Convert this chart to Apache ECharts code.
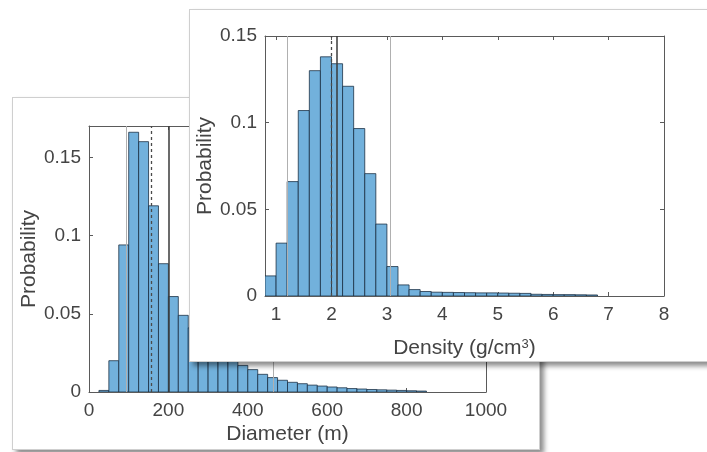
<!DOCTYPE html>
<html>
<head>
<meta charset="utf-8">
<script src="https://cdn.jsdelivr.net/npm/echarts@6/dist/echarts.min.js"></script>
<style>
  html, body { margin: 0; padding: 0; width: 707px; height: 452px; overflow: hidden; background: #ffffff; }
  .card {
    position: absolute;
    box-sizing: border-box;
    width: 528px;
    height: 353px;
    background: #ffffff;
    border: 1px solid #cfcfcf;
    box-shadow: 4px 4px 5px rgba(0, 0, 0, 0.45);
  }
  #diameterCard { left: 12px; top: 97px; z-index: 1; }
  #densityCard { left: 189px; top: 9px; z-index: 2; }
  .plot { position: absolute; left: 0; top: 0; width: 526px; height: 351px; }
</style>
</head>
<body>
<div id="diameterCard" class="card"><div id="diameterPlot" class="plot"></div></div>
<div id="densityCard" class="card"><div id="densityPlot" class="plot"></div></div>
<script>
// Diameter histogram: bins of 25 m starting at 25 m
const diameterBinStart = 25;
const diameterBinWidth = 25;
const diameterProb = [
  0.001, 0.020, 0.094, 0.166, 0.160, 0.119, 0.082, 0.061, 0.049,
  0.041, 0.035, 0.030, 0.025, 0.021, 0.017, 0.0143, 0.0113, 0.0092,
  0.0075, 0.0062, 0.0053, 0.0044, 0.0038, 0.0032, 0.0027, 0.0022,
  0.0019, 0.0016, 0.0014, 0.0012, 0.0010, 0.0008, 0.0006
];
const diameterTicksX = [0, 200, 400, 600, 800, 1000];
const diameterTicksY = [0, 0.05, 0.1, 0.15];
// percentile / median / mean markers (m)
const diameterP5 = [95];
const diameterP95 = [463];
const diameterMedian = [158];
const diameterMean = [200];

// Density histogram: bins of 0.2 g/cm3 starting at 0.8
const densityBinStart = 0.8;
const densityBinWidth = 0.2;
const densityProb = [
  0.0116, 0.0305, 0.066, 0.107, 0.130, 0.138, 0.134, 0.121, 0.0966,
  0.0706, 0.0415, 0.017, 0.0064, 0.0037, 0.0026, 0.0022, 0.0021,
  0.0020, 0.0019, 0.0018, 0.0018, 0.0017, 0.0016, 0.0015, 0.0010,
  0.0009, 0.0008, 0.0008, 0.0007, 0.0006
];
const densityTicksX = [1, 2, 3, 4, 5, 6, 7, 8];
const densityTicksY = [0, 0.05, 0.1, 0.15];
const densityP5 = [1.2];
const densityP95 = [3.06];
const densityMedian = [2.0];
const densityMean = [2.09];

const FONT = '"Liberation Sans", Arial, Helvetica, sans-serif';
const TEXT = '#444444';
const AXIS = '#5a5a5a';

function binRows(start, width, probs) {
  return probs.map((p, i) => [start + i * width, start + (i + 1) * width, p]);
}

function histItem(params, api) {
  const topLeft = api.coord([api.value(0), api.value(2)]);
  const bottomRight = api.coord([api.value(1), 0]);
  return {
    type: 'rect',
    shape: {
      x: topLeft[0], y: topLeft[1],
      width: bottomRight[0] - topLeft[0],
      height: bottomRight[1] - topLeft[1]
    },
    style: { fill: '#72b1dc', stroke: 'rgba(20,40,60,0.75)', lineWidth: 1 }
  };
}

const plainNumber = v => String(v);

function xAxes(min, max, ticks, name, nameGap, rich) {
  const common = {
    type: 'value', min: min, max: max,
    splitLine: { show: false },
    axisLine: { show: true, onZero: false, lineStyle: { color: AXIS, width: 1 } },
    axisTick: { show: true, inside: true, length: 4, customValues: ticks, lineStyle: { color: AXIS } }
  };
  return [
    Object.assign({}, common, {
      position: 'bottom',
      axisLabel: { show: true, customValues: ticks, formatter: plainNumber, margin: 9, fontSize: 19, color: TEXT, fontFamily: FONT },
      name: name, nameLocation: 'middle', nameGap: nameGap, nameMoveOverlap: false,
      nameTextStyle: { fontSize: 21, color: TEXT, fontFamily: FONT, rich: rich || {} }
    }),
    Object.assign({}, common, { position: 'top', axisLabel: { show: false } })
  ];
}

function yAxes(min, max, ticks, name, nameGap) {
  const common = {
    type: 'value', min: min, max: max,
    splitLine: { show: false },
    axisLine: { show: true, onZero: false, lineStyle: { color: AXIS, width: 1 } },
    axisTick: { show: true, inside: true, length: 4, customValues: ticks, lineStyle: { color: AXIS } }
  };
  return [
    Object.assign({}, common, {
      position: 'left',
      axisLabel: { show: true, customValues: ticks, formatter: plainNumber, margin: 8, fontSize: 19, color: TEXT, fontFamily: FONT },
      name: name, nameLocation: 'middle', nameGap: nameGap, nameMoveOverlap: false,
      nameTextStyle: { fontSize: 21, color: TEXT, fontFamily: FONT }
    }),
    Object.assign({}, common, { position: 'right', axisLabel: { show: false } })
  ];
}

function markerSeries(values, style, z) {
  return {
    type: 'line', data: [], z: z, silent: true,
    markLine: {
      symbol: 'none', silent: true, animation: false,
      label: { show: false },
      lineStyle: style,
      data: values.map(v => ({ xAxis: v }))
    }
  };
}

function histOption(grid, xa, ya, rows, p5, p95, median, mean) {
  return {
    animation: false,
    grid: Object.assign({ outerBoundsMode: 'none', containLabel: false }, grid),
    xAxis: xa,
    yAxis: ya,
    series: [
      markerSeries(p5.concat(p95), { color: '#b0b0b0', width: 1, type: 'solid' }, 1),
      markerSeries(mean, { color: '#3a3a3a', width: 1.5, type: 'solid' }, 1),
      {
        type: 'custom', renderItem: histItem, data: rows, z: 2, clip: true,
        encode: { x: [0, 1], y: 2 }
      },
      markerSeries(median, { color: '#4a4a4a', width: 1.3, type: [3, 3] }, 3)
    ]
  };
}

const diameterChart = echarts.init(document.getElementById('diameterPlot'), null, { renderer: 'canvas' });
diameterChart.setOption(histOption(
  { left: 76, top: 28, width: 397, height: 266 },
  xAxes(0, 1000, diameterTicksX, 'Diameter (m)', 32),
  yAxes(0, 0.17, diameterTicksY, 'Probability', 49),
  binRows(diameterBinStart, diameterBinWidth, diameterProb),
  diameterP5, diameterP95, diameterMedian, diameterMean
));

const densityChart = echarts.init(document.getElementById('densityPlot'), null, { renderer: 'canvas' });
densityChart.setOption(histOption(
  { left: 75, top: 26, width: 399, height: 260 },
  xAxes(0.8, 8, densityTicksX, 'Density (g/cm{sup|3})', 42,
    { sup: { fontSize: 13, verticalAlign: 'top', color: TEXT, fontFamily: FONT } }),
  yAxes(0, 0.15, densityTicksY, 'Probability', 49),
  binRows(densityBinStart, densityBinWidth, densityProb),
  densityP5, densityP95, densityMedian, densityMean
));
</script>
</body>
</html>
